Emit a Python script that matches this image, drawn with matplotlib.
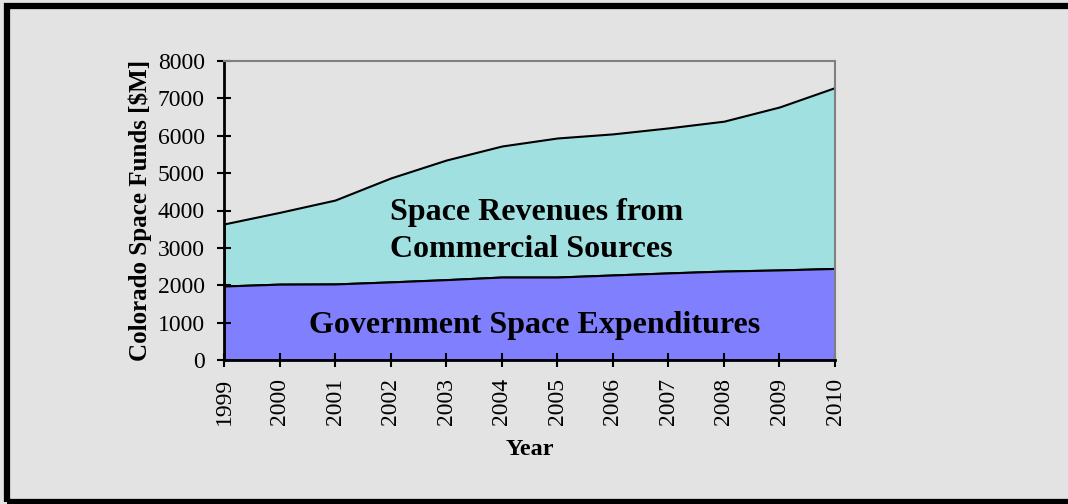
import numpy as np
import matplotlib.pyplot as plt
from matplotlib.patches import Rectangle

years = np.arange(1999, 2011)
# government space expenditures, $M
government = [1980, 2030, 2035, 2090, 2150, 2220, 2220, 2275, 2330, 2380, 2410, 2450]
# total space funds (government + commercial), $M
total = [3640, 3950, 4280, 4870, 5350, 5725, 5940, 6050, 6210, 6390, 6770, 7290]

plt.rcParams["font.family"] = ["Liberation Serif", "DejaVu Serif"]

bg = "#e3e3e3"
fig = plt.figure(figsize=(10.68, 5.04), dpi=100, facecolor=bg)
ax = fig.add_axes([224 / 1068, 1 - 360 / 504, (835 - 224) / 1068, (360 - 61) / 504])
ax.set_facecolor(bg)

ax.fill_between(years, government, total, facecolor="#a0e0e0", edgecolor="black", linewidth=1.5)
ax.fill_between(years, 0, government, facecolor="#8080ff", edgecolor="black", linewidth=1.5)

ax.set_xlim(1999, 2010)
ax.set_ylim(0, 8000)
ax.set_xticks(years)
ax.set_xticklabels([str(y) for y in years], rotation=90, fontsize=17)
ax.set_yticks(np.arange(0, 8001, 1000))
ax.tick_params(axis="y", labelsize=17, direction="inout", length=9.5, width=1.5, pad=9)
ax.tick_params(axis="x", direction="inout", length=10, width=1.5, pad=8)

for side in ("left", "bottom"):
    ax.spines[side].set_linewidth(2)
    ax.spines[side].set_color("black")
for side in ("top", "right"):
    ax.spines[side].set_linewidth(1.5)
    ax.spines[side].set_color("#808080")

ax.set_ylabel("Colorado Space Funds [$M]", fontsize=18, fontweight="bold", labelpad=4)
ax.set_xlabel("Year", fontsize=17.5, fontweight="bold", labelpad=10)

ax.text(2001.99, 3450, "Space Revenues from\nCommercial Sources", fontsize=23,
        fontweight="bold", ha="left", va="center", linespacing=1.33)
ax.text(2004.6, 936, "Government Space Expenditures", fontsize=23,
        fontweight="bold", ha="center", va="center")

# frame around the whole figure
fig.patches.append(Rectangle((7 / 1068, 2.5 / 504), 1.1, 495.5 / 504, transform=fig.transFigure,
                             fill=False, edgecolor="black", linewidth=4.5, clip_on=False))

fig.savefig("out.png", dpi=100, facecolor=bg)
